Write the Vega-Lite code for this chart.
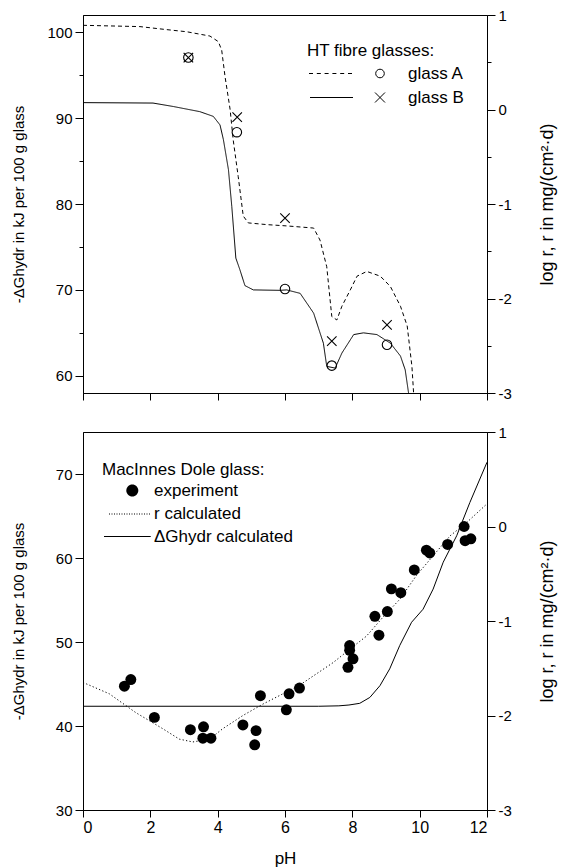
{
  "$schema": "https://vega.github.io/schema/vega-lite/v6.json",
  "background": "white",
  "padding": {"left": 10, "top": 7, "right": 5, "bottom": 0},
  "spacing": 22,
  "config": {
    "font": "Liberation Sans",
    "view": {"stroke": "black", "strokeWidth": 1},
    "axis": {"domainColor": "black", "tickColor": "black", "labelColor": "black", "titleColor": "black", "labelFont": "Liberation Sans", "titleFont": "Liberation Sans", "labelFontSize": 15, "titleFontSize": 15, "titleFontWeight": "normal", "grid": false, "tickSize": 7, "labelPadding": 3, "domainWidth": 1, "tickWidth": 1},
    "legend": {"titleFont": "Liberation Sans", "labelFont": "Liberation Sans", "titleFontWeight": "normal", "titleColor": "black", "labelColor": "black", "titleFontSize": 17, "labelFontSize": 17, "padding": 0}
  },
  "datasets": {
    "topLines": [
      {"pH": 0, "dG": 100.8, "curve": "A"}, {"pH": 1.69, "dG": 100.65, "curve": "A"}, {"pH": 2.48, "dG": 100.3, "curve": "A"}, {"pH": 3.08, "dG": 100.05, "curve": "A"}, {"pH": 3.77, "dG": 99.55, "curve": "A"}, {"pH": 4.02, "dG": 98.9, "curve": "A"}, {"pH": 4.12, "dG": 97.9, "curve": "A"}, {"pH": 4.22, "dG": 94.8, "curve": "A"}, {"pH": 4.37, "dG": 91.0, "curve": "A"}, {"pH": 4.46, "dG": 87.5, "curve": "A"}, {"pH": 4.61, "dG": 83.2, "curve": "A"}, {"pH": 4.76, "dG": 78.6, "curve": "A"}, {"pH": 4.91, "dG": 77.8, "curve": "A"}, {"pH": 5.46, "dG": 77.6, "curve": "A"}, {"pH": 6.05, "dG": 77.45, "curve": "A"}, {"pH": 6.85, "dG": 77.2, "curve": "A"}, {"pH": 7.04, "dG": 75.8, "curve": "A"}, {"pH": 7.24, "dG": 72.7, "curve": "A"}, {"pH": 7.39, "dG": 66.9, "curve": "A"}, {"pH": 7.54, "dG": 66.5, "curve": "A"}, {"pH": 7.69, "dG": 68.1, "curve": "A"}, {"pH": 7.94, "dG": 70.0, "curve": "A"}, {"pH": 8.14, "dG": 71.6, "curve": "A"}, {"pH": 8.43, "dG": 72.15, "curve": "A"}, {"pH": 8.83, "dG": 71.6, "curve": "A"}, {"pH": 9.13, "dG": 70.4, "curve": "A"}, {"pH": 9.43, "dG": 68.1, "curve": "A"}, {"pH": 9.63, "dG": 65.8, "curve": "A"}, {"pH": 9.77, "dG": 61.1, "curve": "A"}, {"pH": 9.82, "dG": 58.0, "curve": "A"},
      {"pH": 0, "dG": 91.8, "curve": "B"}, {"pH": 2.08, "dG": 91.75, "curve": "B"}, {"pH": 2.68, "dG": 91.35, "curve": "B"}, {"pH": 3.47, "dG": 90.75, "curve": "B"}, {"pH": 3.87, "dG": 90.2, "curve": "B"}, {"pH": 4.07, "dG": 89.2, "curve": "B"}, {"pH": 4.17, "dG": 87.5, "curve": "B"}, {"pH": 4.32, "dG": 84.0, "curve": "B"}, {"pH": 4.42, "dG": 79.7, "curve": "B"}, {"pH": 4.54, "dG": 73.7, "curve": "B"}, {"pH": 4.66, "dG": 72.35, "curve": "B"}, {"pH": 4.81, "dG": 70.5, "curve": "B"}, {"pH": 5.06, "dG": 70.0, "curve": "B"}, {"pH": 5.85, "dG": 69.95, "curve": "B"}, {"pH": 6.05, "dG": 70.0, "curve": "B"}, {"pH": 6.45, "dG": 69.6, "curve": "B"}, {"pH": 6.85, "dG": 67.3, "curve": "B"}, {"pH": 7.14, "dG": 63.8, "curve": "B"}, {"pH": 7.24, "dG": 61.1, "curve": "B"}, {"pH": 7.49, "dG": 60.9, "curve": "B"}, {"pH": 7.69, "dG": 62.65, "curve": "B"}, {"pH": 8.04, "dG": 64.8, "curve": "B"}, {"pH": 8.33, "dG": 65.0, "curve": "B"}, {"pH": 8.73, "dG": 64.8, "curve": "B"}, {"pH": 9.13, "dG": 63.8, "curve": "B"}, {"pH": 9.43, "dG": 62.3, "curve": "B"}, {"pH": 9.57, "dG": 60.7, "curve": "B"}, {"pH": 9.67, "dG": 58.0, "curve": "B"}
    ],
    "topPoints": [
      {"pH": 3.13, "logr": 0.55, "glass": "glass A"}, {"pH": 4.57, "logr": -0.24, "glass": "glass A"}, {"pH": 6.0, "logr": -1.9, "glass": "glass A"}, {"pH": 7.39, "logr": -2.71, "glass": "glass A"}, {"pH": 9.03, "logr": -2.49, "glass": "glass A"},
      {"pH": 3.13, "logr": 0.55, "glass": "glass B"}, {"pH": 4.58, "logr": -0.08, "glass": "glass B"}, {"pH": 6.0, "logr": -1.15, "glass": "glass B"}, {"pH": 7.39, "logr": -2.45, "glass": "glass B"}, {"pH": 9.03, "logr": -2.28, "glass": "glass B"}
    ],
    "bottomDG": [
      {"pH": 0, "dG": 42.35}, {"pH": 7.0, "dG": 42.35}, {"pH": 7.6, "dG": 42.4}, {"pH": 7.9, "dG": 42.5}, {"pH": 8.22, "dG": 42.7}, {"pH": 8.52, "dG": 43.4}, {"pH": 8.82, "dG": 44.8}, {"pH": 9.11, "dG": 46.8}, {"pH": 9.41, "dG": 49.6}, {"pH": 9.76, "dG": 52.35}, {"pH": 10.1, "dG": 53.9}, {"pH": 10.4, "dG": 56.3}, {"pH": 10.7, "dG": 59.5}, {"pH": 11.1, "dG": 62.65}, {"pH": 11.49, "dG": 66.6}, {"pH": 12.0, "dG": 71.4}
    ],
    "bottomR": [
      {"pH": 0, "logr": -1.65}, {"pH": 0.78, "logr": -1.77}, {"pH": 1.57, "logr": -1.97}, {"pH": 2.37, "logr": -2.14}, {"pH": 2.86, "logr": -2.25}, {"pH": 3.26, "logr": -2.28}, {"pH": 3.76, "logr": -2.25}, {"pH": 4.15, "logr": -2.14}, {"pH": 4.75, "logr": -2.0}, {"pH": 5.34, "logr": -1.88}, {"pH": 5.94, "logr": -1.77}, {"pH": 6.43, "logr": -1.68}, {"pH": 6.93, "logr": -1.56}, {"pH": 7.43, "logr": -1.44}, {"pH": 7.92, "logr": -1.3}, {"pH": 8.42, "logr": -1.16}, {"pH": 8.91, "logr": -0.96}, {"pH": 9.41, "logr": -0.77}, {"pH": 9.9, "logr": -0.52}, {"pH": 10.4, "logr": -0.31}, {"pH": 10.9, "logr": -0.1}, {"pH": 11.39, "logr": 0.04}, {"pH": 12.0, "logr": 0.24}
    ],
    "bottomPts": [
      {"pH": 1.23, "logr": -1.69, "series": "experiment"}, {"pH": 1.42, "logr": -1.62, "series": "experiment"}, {"pH": 2.12, "logr": -2.02, "series": "experiment"}, {"pH": 3.19, "logr": -2.15, "series": "experiment"}, {"pH": 3.58, "logr": -2.12, "series": "experiment"}, {"pH": 3.56, "logr": -2.24, "series": "experiment"}, {"pH": 3.8, "logr": -2.24, "series": "experiment"}, {"pH": 4.75, "logr": -2.1, "series": "experiment"}, {"pH": 5.14, "logr": -2.16, "series": "experiment"}, {"pH": 5.1, "logr": -2.31, "series": "experiment"}, {"pH": 5.27, "logr": -1.79, "series": "experiment"}, {"pH": 6.04, "logr": -1.94, "series": "experiment"}, {"pH": 6.12, "logr": -1.77, "series": "experiment"}, {"pH": 6.43, "logr": -1.71, "series": "experiment"}, {"pH": 7.87, "logr": -1.49, "series": "experiment"}, {"pH": 7.92, "logr": -1.26, "series": "experiment"}, {"pH": 7.92, "logr": -1.31, "series": "experiment"}, {"pH": 8.02, "logr": -1.4, "series": "experiment"}, {"pH": 8.67, "logr": -0.95, "series": "experiment"}, {"pH": 8.79, "logr": -1.15, "series": "experiment"}, {"pH": 9.04, "logr": -0.9, "series": "experiment"}, {"pH": 9.16, "logr": -0.66, "series": "experiment"}, {"pH": 9.44, "logr": -0.7, "series": "experiment"}, {"pH": 9.84, "logr": -0.46, "series": "experiment"}, {"pH": 10.2, "logr": -0.25, "series": "experiment"}, {"pH": 10.3, "logr": -0.28, "series": "experiment"}, {"pH": 10.83, "logr": -0.19, "series": "experiment"}, {"pH": 11.32, "logr": 0.0, "series": "experiment"}, {"pH": 11.35, "logr": -0.15, "series": "experiment"}, {"pH": 11.52, "logr": -0.13, "series": "experiment"}
    ]
  },
  "resolve": {"scale": {"shape": "independent", "strokeDash": "independent"}},
  "vconcat": [
    {
      "width": 404,
      "height": 378,
      "layer": [
        {
          "data": {"name": "topLines"},
          "mark": {"type": "line", "color": "black", "strokeWidth": 1, "clip": true},
          "encoding": {
            "x": {"field": "pH", "type": "quantitative", "scale": {"domain": [0, 12], "nice": false}, "axis": {"values": [0, 2, 4, 6, 8, 10, 12], "labels": false, "title": null, "tickSize": 7}},
            "y": {"field": "dG", "type": "quantitative", "scale": {"domain": [58, 102], "nice": false, "zero": false}, "axis": {"orient": "left", "values": [60, 65, 70, 75, 80, 85, 90, 95, 100], "labelExpr": "datum.value % 10 === 0 ? toString(datum.value) : ''", "tickSize": {"condition": {"test": "datum.value % 10 === 0", "value": 8}, "value": 4}, "title": "-ΔGhydr in kJ per 100 g glass", "titleX": -65, "titleBaseline": "middle"}},
            "strokeDash": {"field": "curve", "type": "nominal", "scale": {"domain": ["A", "B"], "range": [[4, 3], [1, 0]]}, "legend": null}
          }
        },
        {
          "layer": [
            {
              "data": {"name": "topPoints"},
              "mark": {"type": "point", "filled": false, "color": "black", "strokeWidth": 1.1, "size": 90, "opacity": 1},
              "encoding": {
                "x": {"field": "pH", "type": "quantitative", "scale": {"domain": [0, 12], "nice": false}, "axis": {"values": [0, 2, 4, 6, 8, 10, 12], "labels": false, "title": null, "tickSize": 7}},
                "y": {"field": "logr", "type": "quantitative", "scale": {"domain": [-3, 1], "nice": false, "zero": false}, "axis": {"orient": "right", "values": [-3, -2.5, -2, -1.5, -1, -0.5, 0, 0.5, 1], "labelExpr": "datum.value % 1 === 0 ? toString(datum.value) : ''", "tickSize": {"condition": {"test": "datum.value % 1 === 0", "value": 8}, "value": 4}, "title": "log r, r in mg/(cm²·d)", "titleFontSize": 18, "titleAngle": 270, "titleX": 60, "titleBaseline": "middle"}},
                "shape": {"field": "glass", "type": "nominal", "scale": {"domain": ["glass A", "glass B"], "range": ["circle", "M-1,-1L1,1M-1,1L1,-1"]}, "legend": null}
              }
            },
            {
              "data": {"name": "topPoints"},
              "mark": {"type": "point", "filled": false, "color": "black", "strokeWidth": 1, "size": 100, "opacity": 0},
              "encoding": {
                "x": {"field": "pH", "type": "quantitative", "scale": {"domain": [0, 12], "nice": false}, "axis": {"values": [0, 2, 4, 6, 8, 10, 12], "labels": false, "title": null, "tickSize": 7}},
                "y": {"field": "logr", "type": "quantitative", "scale": {"domain": [-3, 1], "nice": false, "zero": false}, "axis": {"orient": "right", "values": [-3, -2.5, -2, -1.5, -1, -0.5, 0, 0.5, 1], "labelExpr": "datum.value % 1 === 0 ? toString(datum.value) : ''", "tickSize": {"condition": {"test": "datum.value % 1 === 0", "value": 8}, "value": 4}, "title": "log r, r in mg/(cm²·d)", "titleFontSize": 18, "titleAngle": 270, "titleX": 60, "titleBaseline": "middle"}},
                "shape": {"field": "glass", "type": "nominal",
                  "scale": {"domain": ["glass A", "glass B"], "range": ["M-1.3,0h0.8M0.26,0h0.8M1.82,0h0.8M3.38,0h0.8M4.94,0h0.8M6.5,0h0.8M12.04,0A0.86,0.86,0,1,1,13.76,0A0.86,0.86,0,1,1,12.04,0Z", "M-1.1,0H7.5M11.9,-1L13.9,1M11.9,1L13.9,-1"]},
                  "legend": {"orient": "none", "legendX": 224, "legendY": 28, "title": "HT fibre glasses:", "titlePadding": 5, "rowPadding": 6, "labelOffset": 84, "symbolSize": 100, "symbolStrokeColor": "black", "symbolStrokeWidth": 1, "symbolFillColor": "transparent"}}
              }
            }
          ],
          "resolve": {"scale": {"shape": "independent"}, "legend": {"shape": "independent"}}
        }
      ],
      "resolve": {"scale": {"y": "independent"}}
    },
    {
      "width": 404,
      "height": 378,
      "layer": [
        {
          "data": {"name": "bottomDG"},
          "mark": {"type": "line", "color": "black", "strokeWidth": 1, "clip": true},
          "encoding": {
            "x": {"field": "pH", "type": "quantitative", "scale": {"domain": [0, 12], "nice": false}, "axis": {"values": [0, 2, 4, 6, 8, 10, 12], "labelFontSize": 16, "labelPadding": 2, "title": "pH", "titleFontSize": 17, "titlePadding": 15, "tickSize": 7}},
            "y": {"field": "dG", "type": "quantitative", "scale": {"domain": [30, 75], "nice": false, "zero": false}, "axis": {"orient": "left", "values": [30, 40, 50, 60, 70], "labelExpr": "toString(datum.value)", "tickSize": 8, "title": "-ΔGhydr in kJ per 100 g glass", "titleX": -65, "titleBaseline": "middle"}}
          }
        },
        {
          "layer": [
            {
              "data": {"name": "bottomR"},
              "mark": {"type": "line", "color": "black", "strokeWidth": 1, "strokeDash": [1.2, 2.3], "clip": true},
              "encoding": {
                "x": {"field": "pH", "type": "quantitative", "scale": {"domain": [0, 12], "nice": false}, "axis": {"values": [0, 2, 4, 6, 8, 10, 12], "labelFontSize": 16, "labelPadding": 2, "title": "pH", "titleFontSize": 17, "titlePadding": 15, "tickSize": 7}},
                "y": {"field": "logr", "type": "quantitative", "scale": {"domain": [-3, 1], "nice": false, "zero": false}, "axis": {"orient": "right", "values": [-3, -2, -1, 0, 1], "labelExpr": "toString(datum.value)", "tickSize": 8, "title": "log r, r in mg/(cm²·d)", "titleFontSize": 18, "titleAngle": 270, "titleX": 60, "titleBaseline": "middle"}}
              }
            },
            {
              "data": {"name": "bottomPts"},
              "mark": {"type": "point", "filled": true, "color": "black", "size": 120, "opacity": 1},
              "encoding": {
                "x": {"field": "pH", "type": "quantitative", "scale": {"domain": [0, 12], "nice": false}, "axis": {"values": [0, 2, 4, 6, 8, 10, 12], "labelFontSize": 16, "labelPadding": 2, "title": "pH", "titleFontSize": 17, "titlePadding": 15, "tickSize": 7}},
                "y": {"field": "logr", "type": "quantitative", "scale": {"domain": [-3, 1], "nice": false, "zero": false}, "axis": {"orient": "right", "values": [-3, -2, -1, 0, 1], "labelExpr": "toString(datum.value)", "tickSize": 8, "title": "log r, r in mg/(cm²·d)", "titleFontSize": 18, "titleAngle": 270, "titleX": 60, "titleBaseline": "middle"}}
              }
            },
            {
              "data": {"name": "bottomPts"},
              "mark": {"type": "point", "filled": true, "color": "black", "size": 100, "opacity": 0},
              "encoding": {
                "x": {"field": "pH", "type": "quantitative", "scale": {"domain": [0, 12], "nice": false}, "axis": {"values": [0, 2, 4, 6, 8, 10, 12], "labelFontSize": 16, "labelPadding": 2, "title": "pH", "titleFontSize": 17, "titlePadding": 15, "tickSize": 7}},
                "y": {"field": "logr", "type": "quantitative", "scale": {"domain": [-3, 1], "nice": false, "zero": false}, "axis": {"orient": "right", "values": [-3, -2, -1, 0, 1], "labelExpr": "toString(datum.value)", "tickSize": 8, "title": "log r, r in mg/(cm²·d)", "titleFontSize": 18, "titleAngle": 270, "titleX": 60, "titleBaseline": "middle"}},
                "shape": {"field": "series", "type": "nominal",
                  "scale": {"domain": ["experiment", "r calculated", "ΔGhydr calculated"], "range": ["M3.16,0A1.2,1.2,0,1,1,5.56,0A1.2,1.2,0,1,1,3.16,0Z", "M-0.3,-0.1h0.2v0.2h-0.2ZM0.2,-0.1h0.2v0.2h-0.2ZM0.7,-0.1h0.2v0.2h-0.2ZM1.2,-0.1h0.2v0.2h-0.2ZM1.7,-0.1h0.2v0.2h-0.2ZM2.2,-0.1h0.2v0.2h-0.2ZM2.7,-0.1h0.2v0.2h-0.2ZM3.2,-0.1h0.2v0.2h-0.2ZM3.7,-0.1h0.2v0.2h-0.2ZM4.2,-0.1h0.2v0.2h-0.2ZM4.7,-0.1h0.2v0.2h-0.2ZM5.2,-0.1h0.2v0.2h-0.2ZM5.7,-0.1h0.2v0.2h-0.2ZM6.2,-0.1h0.2v0.2h-0.2ZM6.7,-0.1h0.2v0.2h-0.2ZM7.2,-0.1h0.2v0.2h-0.2ZM7.7,-0.1h0.2v0.2h-0.2Z", "M-1.3,-0.1H8.04V0.1H-1.3Z"]},
                  "legend": {"orient": "none", "legendX": 19, "legendY": 30, "title": "MacInnes Dole glass:", "titlePadding": 3, "rowPadding": 4.5, "labelOffset": 35, "symbolSize": 100, "symbolFillColor": "black"}}
              }
            }
          ],
          "resolve": {"scale": {"shape": "independent"}, "legend": {"shape": "independent"}}
        }
      ],
      "resolve": {"scale": {"y": "independent"}}
    }
  ]
}
